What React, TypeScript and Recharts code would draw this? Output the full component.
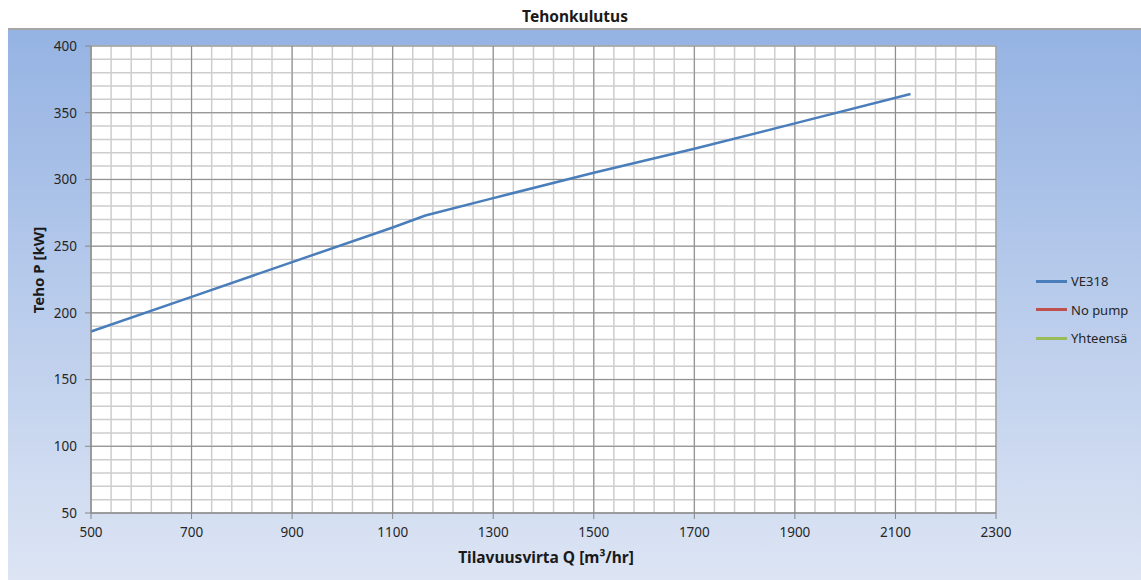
import { LineChart, Line, XAxis, YAxis, CartesianGrid } from "recharts";

// Tilavuusvirta Q [m3/hr] vs. Teho P [kW]
const flow = [500, 700, 900, 1100, 1165, 1300, 1500, 1700, 1900, 2130];
const ve318 = [186, 212, 238, 264, 273, 286, 305, 323, 342, 364];

const xTicks = [500, 700, 900, 1100, 1300, 1500, 1700, 1900, 2100, 2300];
const yTicks = [50, 100, 150, 200, 250, 300, 350, 400];

// minor gridlines every 40 / 10 units, like the original sheet
const xMinor = Array.from({ length: 46 }, (_, i) => 500 + i * 40);
const yMinor = Array.from({ length: 36 }, (_, i) => 50 + i * 10);

const seriesNames = ["VE318", "No pump", "Yhteensä"];
const seriesColors = ["#4a7ebb", "#c0504d", "#9bbb59"];

const data = flow.map((q, i) => ({ q, ve318: ve318[i] }));

const FONT = "'Noto Sans', 'Open Sans', sans-serif";
const tickStyle = { fontSize: 13.5, fill: "#262626", fontFamily: FONT };

const LegendBox = () => (
  <div
    style={{
      position: "absolute",
      left: 1036,
      top: 267,
      fontFamily: FONT,
      fontSize: 13,
      color: "#262626",
    }}
  >
    {seriesNames.map((name, i) => (
      <div key={name} style={{ display: "flex", alignItems: "center", height: 28.5 }}>
        <span
          style={{
            display: "inline-block",
            width: 31,
            height: 3,
            background: seriesColors[i],
            marginRight: 4,
          }}
        />
        {name}
      </div>
    ))}
  </div>
);

export default function App() {
  return (
    <div style={{ position: "relative", width: 1141, height: 580, background: "#fff", overflow: "hidden" }}>
      <style>{"body{margin:0}"}</style>
      <div
        style={{
          position: "absolute",
          left: 8,
          top: 28,
          width: 1133,
          height: 552,
          borderTop: "2px solid #a6a6a6",
          background: "linear-gradient(180deg, #95b3e3 0%, #dde5f4 100%)",
        }}
      />
      <div
        style={{
          position: "absolute",
          left: 0,
          top: 5,
          width: 1150,
          textAlign: "center",
          fontFamily: FONT,
          fontWeight: "bold",
          fontSize: 15.5,
          color: "#1a1a1a",
        }}
      >
        Tehonkulutus
      </div>
      <div
        style={{
          position: "absolute",
          left: 38,
          top: 270,
          transform: "translate(-50%, -50%) rotate(-90deg)",
          whiteSpace: "nowrap",
          fontFamily: FONT,
          fontWeight: "bold",
          fontSize: 15,
          color: "#1a1a1a",
        }}
      >
        Teho P [kW]
      </div>
      <div
        style={{
          position: "absolute",
          left: 546,
          top: 557,
          transform: "translate(-50%, -50%)",
          whiteSpace: "nowrap",
          fontFamily: FONT,
          fontWeight: "bold",
          fontSize: 15.5,
          color: "#1a1a1a",
        }}
      >
        Tilavuusvirta Q [m³/hr]
      </div>
      <div style={{ position: "absolute", left: 0, top: 0 }}>
        <LineChart width={1141} height={580} data={data} margin={{ top: 46, right: 145, bottom: 37, left: 31 }}>
          <CartesianGrid
            fill="#ffffff"
            stroke="#cdcdcd"
            strokeWidth={1.5}
            horizontalValues={yMinor}
            verticalValues={xMinor}
          />
          <CartesianGrid
            fill="none"
            stroke="#8c8c8c"
            strokeWidth={1}
            horizontalValues={yTicks}
            verticalValues={xTicks}
          />
          <XAxis
            dataKey="q"
            type="number"
            domain={[500, 2300]}
            ticks={xTicks}
            interval={0}
            height={30}
            tick={tickStyle}
            tickSize={6}
            tickMargin={8}
            axisLine={{ stroke: "#868686" }}
            tickLine={{ stroke: "#868686" }}
          />
          <YAxis
            type="number"
            domain={[50, 400]}
            ticks={yTicks}
            interval={0}
            width={60}
            tick={tickStyle}
            tickSize={6}
            tickMargin={8}
            axisLine={{ stroke: "#868686" }}
            tickLine={{ stroke: "#868686" }}
          />
          <Line
            dataKey="ve318"
            name={seriesNames[0]}
            stroke={seriesColors[0]}
            strokeWidth={2.5}
            dot={false}
            isAnimationActive={false}
          />
          <Line
            dataKey="noPump"
            name={seriesNames[1]}
            stroke={seriesColors[1]}
            strokeWidth={2.5}
            dot={false}
            isAnimationActive={false}
          />
          <Line
            dataKey="total"
            name={seriesNames[2]}
            stroke={seriesColors[2]}
            strokeWidth={2.5}
            dot={false}
            isAnimationActive={false}
          />
        </LineChart>
      </div>
      <LegendBox />
    </div>
  );
}
